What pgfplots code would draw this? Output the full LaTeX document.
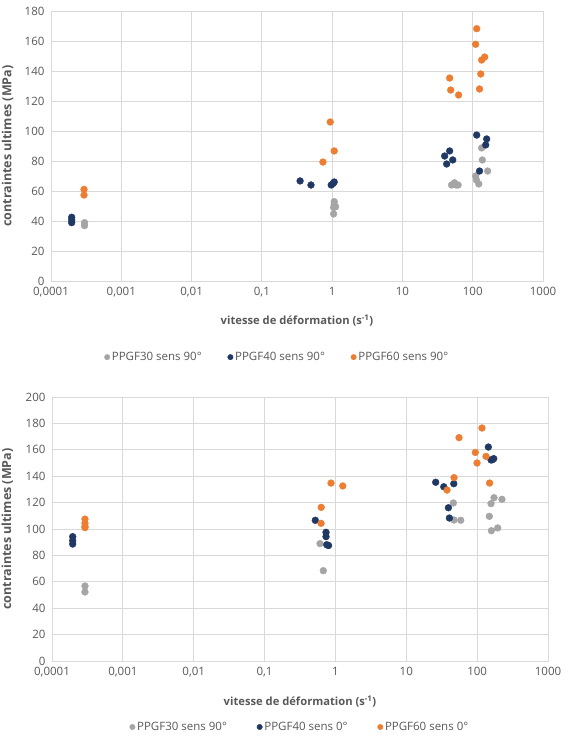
\documentclass[border=0pt]{standalone}
\usepackage{fontspec}
\setmainfont{Open Sans}
\usepackage{pgfplots}
\pgfplotsset{compat=1.18}
\definecolor{c30}{HTML}{A5A5A5}
\definecolor{c40}{HTML}{203864}
\definecolor{c60}{HTML}{ED7D31}
\definecolor{gridc}{HTML}{D9D9D9}
\definecolor{txt}{HTML}{595959}
\begin{document}
\begin{tikzpicture}
\fill[white] (0,0) rectangle (565pt,739pt);
\useasboundingbox (0,0) rectangle (565pt,739pt);
% ---------- top chart ----------
\begin{axis}[at={(51pt,458pt)}, anchor=south west,
  scale only axis, width=492pt, height=270pt,
  xmode=log, xmin=1e-4, xmax=1000, ymin=0, ymax=180, ytick={0,20,...,180},
  xtick={1e-4,1e-3,1e-2,1e-1,1,10,100,1000},
  xticklabels={{0,0001},{0,001},{0,01},{0,1},1,10,100,1000},
  grid=major, major grid style={gridc, line width=0.9pt},
  axis line style={gridc, line width=0.9pt},
  major tick length=0pt, minor tick length=0pt,
  tick label style={font=\fontsize{11.5}{13}\selectfont, text=txt},
  xticklabel style={yshift=-3pt},
  yticklabel style={xshift=-3pt},
  /pgf/number format/assume math mode=true,
  xlabel style={font=\bfseries\fontsize{11.2}{13}\selectfont, text=txt,
    at={(axis description cs:0.5,-0.145)}, anchor=center},
  ylabel style={font=\bfseries\fontsize{12.5}{14}\selectfont, text=txt,
    at={(axis description cs:-0.088,0.5)}, anchor=center},
  xlabel={vitesse de déformation (s\textsuperscript{-1})},
  ylabel={contraintes ultimes (MPa)},
  legend style={draw=none, fill=none, font=\fontsize{11.5}{13}\selectfont, text=txt,
    at={(axis description cs:0.46,-0.282)}, anchor=center,
    /tikz/every even column/.append style={column sep=24pt}},
  legend image post style={mark size=2.7pt},
  legend columns=3,
  legend cell align=left,
]
\addplot[only marks, mark=*, mark size=3.4pt, color=c30] coordinates {
(3e-4,38.9)(3e-4,36.9)
(1.07,52.9)(1.07,51)(1.12,49.5)(1.05,49)(1.05,44.7)
(50,64)(55,65.5)(58,64)(62,64)
(110,70)(113,67.3)(122,64.7)(134,88.7)(137,80.7)(163,73.3)
};
\addlegendentry{PPGF30 sens 90°}
\addplot[only marks, mark=*, mark size=3.4pt, color=c40] coordinates {
(1.97e-4,42.5)(1.97e-4,40.7)(1.97e-4,38.9)
(0.35,66.7)(0.5,64)(0.97,64)(1.03,65)(1.07,66)
(39.9,83.3)(42.6,78)(47,86.7)(52,80.7)
(114,97.3)(158,94.7)(153,90.7)(125,73.3)
};
\addlegendentry{PPGF40 sens 90°}
\addplot[only marks, mark=*, mark size=3.4pt, color=c60] coordinates {
(2.95e-4,61.1)(2.95e-4,57.3)
(0.74,79.3)(0.94,106)(1.07,86.7)
(47,135.3)(48.6,127.3)(63,124)
(114,168.2)(110,157.8)(134,147.3)(148,149.3)(130,138)(125,128)
};
\addlegendentry{PPGF60 sens 90°}
\end{axis}
% ---------- bottom chart ----------
\begin{axis}[at={(52pt,78pt)}, anchor=south west,
  scale only axis, width=496pt, height=264pt,
  xmode=log, xmin=1e-4, xmax=1000, ymin=0, ymax=200, ytick={0,20,...,200},
  xtick={1e-4,1e-3,1e-2,1e-1,1,10,100,1000},
  xticklabels={{0,0001},{0,001},{0,01},{0,1},1,10,100,1000},
  grid=major, major grid style={gridc, line width=0.9pt},
  axis line style={gridc, line width=0.9pt},
  major tick length=0pt, minor tick length=0pt,
  tick label style={font=\fontsize{11.5}{13}\selectfont, text=txt},
  xticklabel style={yshift=-3pt},
  yticklabel style={xshift=-3pt},
  /pgf/number format/assume math mode=true,
  xlabel style={font=\bfseries\fontsize{11.2}{13}\selectfont, text=txt,
    at={(axis description cs:0.5,-0.155)}, anchor=center},
  ylabel style={font=\bfseries\fontsize{12.5}{14}\selectfont, text=txt,
    at={(axis description cs:-0.09,0.5)}, anchor=center},
  xlabel={vitesse de déformation (s\textsuperscript{-1})},
  ylabel={contraintes ultimes (MPa)},
  legend style={draw=none, fill=none, font=\fontsize{11.5}{13}\selectfont, text=txt,
    at={(axis description cs:0.5,-0.25)}, anchor=center,
    /tikz/every even column/.append style={column sep=28pt}},
  legend image post style={mark size=2.7pt},
  legend columns=3,
  legend cell align=left,
]
\addplot[only marks, mark=*, mark size=3.4pt, color=c30] coordinates {
(2.92e-4,56.8)(2.92e-4,52.3)
(0.606,88.9)(0.675,68.4)(0.787,87.6)
(46.2,119.7)(47.2,106.8)(58.7,106.6)
(173,123.7)(224,122.5)(157,119.2)(148.6,109.6)(159,98.7)(195,100.8)
};
\addlegendentry{PPGF30 sens 90°}
\addplot[only marks, mark=*, mark size=3.4pt, color=c40] coordinates {
(1.96e-4,94.2)(1.96e-4,91.1)(1.96e-4,88.6)
(0.52,106.6)(0.737,97.5)(0.737,94.2)(0.754,88.1)(0.8,87.5)
(26,135.4)(33.8,132)(46.8,134.3)(39.3,116.1)(40.6,108.3)
(143.9,162.1)(157,152.3)(171.5,153.3)(164,152.5)
};
\addlegendentry{PPGF40 sens 0°}
\addplot[only marks, mark=*, mark size=3.4pt, color=c60] coordinates {
(2.92e-4,107.5)(2.92e-4,104.3)(2.92e-4,102)(2.92e-4,101)
(0.867,134.8)(1.27,132.6)(0.63,116.4)(0.627,104.3)
(55.5,169.2)(47.2,138.9)(37.6,129.5)
(117,176.5)(94.3,158)(99.7,150)(133.5,155)(150,134.8)
};
\addlegendentry{PPGF60 sens 0°}
\end{axis}
\end{tikzpicture}
\end{document}
